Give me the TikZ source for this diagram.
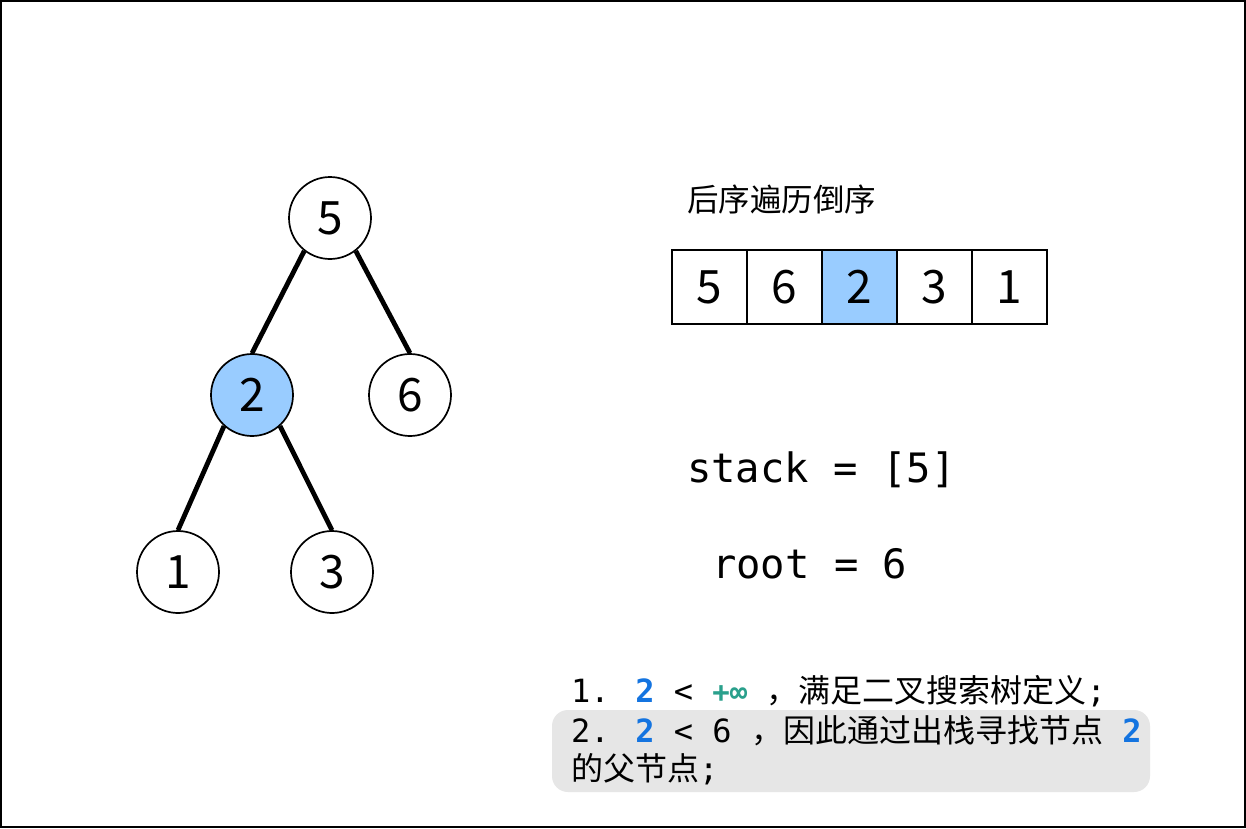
\documentclass[tikz,border=0pt]{standalone}
\usepackage{fontspec}
\setmainfont{Noto Sans CJK SC}
\setmonofont{DejaVu Sans Mono}
\newfontfamily\cjk{Noto Sans CJK SC}
\newfontfamily\monof{DejaVu Sans Mono}
\definecolor{nodeblue}{RGB}{153,204,255}
\definecolor{numblue}{RGB}{20,116,224}
\definecolor{infgreen}{RGB}{42,160,140}
\definecolor{boxgray}{RGB}{230,230,230}
\newcommand{\bluetwo}{\textcolor{numblue}{\bfseries 2}}
\begin{document}
\begin{tikzpicture}[x=1pt,y=-1pt,
  treenode/.style={circle,draw=black,line width=1.7pt,minimum size=82pt,inner sep=0pt,fill=white,font=\cjk\fontsize{46}{50}\selectfont},
  edge/.style={line width=4.8pt,black},
  cell/.style={rectangle,draw=black,line width=1.4pt,minimum width=75pt,minimum height=74pt,inner sep=0pt,font=\cjk\fontsize{46}{50}\selectfont},
  bigmono/.style={anchor=base west,inner sep=0pt,font=\monof\fontsize{40.5}{44}\selectfont},
  note/.style={anchor=base west,inner sep=0pt,font=\monof\fontsize{32}{36}\selectfont}
]
\useasboundingbox (0,0) rectangle (1246,828);
\draw[line width=2pt,fill=white] (1,1) rectangle (1245,827);

% tree
\node[treenode] (n5) at (330,218) {5};
\node[treenode,fill=nodeblue] (n2) at (252,395) {2};
\node[treenode] (n6) at (410,395) {6};
\node[treenode] (n1) at (178,572) {1};
\node[treenode] (n3) at (332,572) {3};
\draw[edge] (n5.232) -- (n2.north);
\draw[edge] (n5.308) -- (n6.north);
\draw[edge] (n2.228) -- (n1.north);
\draw[edge] (n2.312) -- (n3.north);

% title and array
\node[anchor=base west,inner sep=0pt,font=\cjk\fontsize{31.5}{36}\selectfont] (title) at (687,211) {后序遍历倒序};
\node[cell] (c1) at (709.5,287) {5};
\node[cell] (c2) at (784.5,287) {6};
\node[cell,fill=nodeblue] (c3) at (859.5,287) {2};
\node[cell] (c4) at (934.5,287) {3};
\node[cell] (c5) at (1009.5,287) {1};

% stack / root
\node[bigmono] (stack) at (687,482) {stack = [5]};
\node[bigmono] (root) at (712,578) {root = 6};

% notes
\fill[boxgray,rounded corners=16pt] (552,710) rectangle (1150,792);
\node[note] (l1) at (571,702) {1. \bluetwo{} < \textcolor{infgreen}{\bfseries\fontsize{29}{32}\selectfont +∞} {\cjk ，满足二叉搜索树定义};};
\node[note] (l2) at (571,742) {2. \bluetwo{} < 6 {\cjk ，因此通过出栈寻找节点} \bluetwo};
\node[note] (l3) at (571,780) {{\cjk 的父节点};};
\end{tikzpicture}
\end{document}
